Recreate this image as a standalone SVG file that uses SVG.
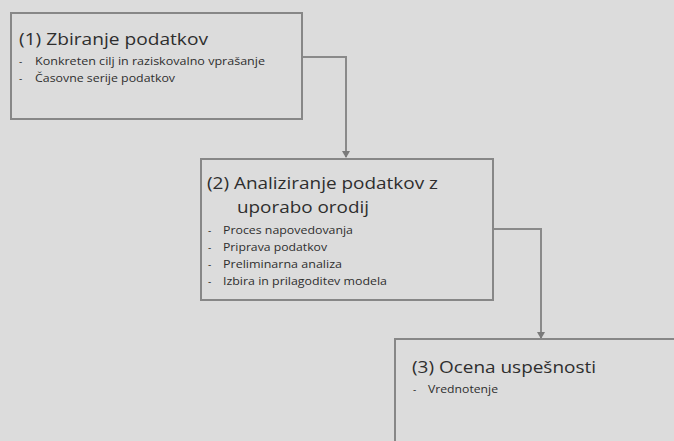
<svg xmlns="http://www.w3.org/2000/svg" width="674" height="441" viewBox="0 0 674 441">
<style>
.box{fill:#dcdcdc;stroke:#878787;stroke-width:2}
.conn{fill:none;stroke:#8a8a8a;stroke-width:2}
.t{font-family:"Open Sans","Liberation Sans",sans-serif;fill:#2e2e2e;font-size:17px}
.i{font-family:"Open Sans","Liberation Sans",sans-serif;fill:#2e2e2e;font-size:10px}
</style>
<defs>
<marker id="arr" markerWidth="8" markerHeight="8" refX="6" refY="4" orient="auto" markerUnits="userSpaceOnUse">
<path d="M0,0 L7,4 L0,8 z" fill="#7a7a7a"/>
</marker>
</defs>
<rect width="674" height="441" fill="#dcdcdc"/>
<g id="connectors">
<path class="conn" d="M302,57 H346 V157" marker-end="url(#arr)"/>
<path class="conn" d="M493,229 H541 V338" marker-end="url(#arr)"/>
</g>
<g id="node1">
<rect class="box" x="11" y="13" width="291" height="106"/>
<text class="t" x="19" y="45" textLength="189" lengthAdjust="spacingAndGlyphs">(1) Zbiranje podatkov</text>
<text class="i" x="19" y="65">-</text>
<text class="i" x="35" y="65" textLength="230" lengthAdjust="spacingAndGlyphs">Konkreten cilj in raziskovalno vprašanje</text>
<text class="i" x="19" y="82">-</text>
<text class="i" x="35" y="82" textLength="140" lengthAdjust="spacingAndGlyphs">Časovne serije podatkov</text>
</g>
<g id="node2">
<rect class="box" x="201" y="159" width="292" height="141"/>
<text class="t" x="207" y="189" textLength="231" lengthAdjust="spacingAndGlyphs" font-size="19">(2) Analiziranje podatkov z</text>
<text class="t" x="237" y="213" textLength="132" lengthAdjust="spacingAndGlyphs" font-size="19">uporabo orodij</text>
<text class="i" x="208" y="234">-</text>
<text class="i" x="223" y="234" textLength="130" lengthAdjust="spacingAndGlyphs">Proces napovedovanja</text>
<text class="i" x="208" y="251">-</text>
<text class="i" x="223" y="251" textLength="104" lengthAdjust="spacingAndGlyphs">Priprava podatkov</text>
<text class="i" x="208" y="268">-</text>
<text class="i" x="223" y="268" textLength="119" lengthAdjust="spacingAndGlyphs">Preliminarna analiza</text>
<text class="i" x="208" y="285">-</text>
<text class="i" x="223" y="285" textLength="164" lengthAdjust="spacingAndGlyphs">Izbira in prilagoditev modela</text>
</g>
<g id="node3">
<rect class="box" x="395" y="339" width="300" height="120"/>
<text class="t" x="412" y="373" textLength="184" lengthAdjust="spacingAndGlyphs">(3) Ocena uspešnosti</text>
<text class="i" x="413" y="393">-</text>
<text class="i" x="428" y="393" textLength="70" lengthAdjust="spacingAndGlyphs">Vrednotenje</text>
</g>
</svg>
